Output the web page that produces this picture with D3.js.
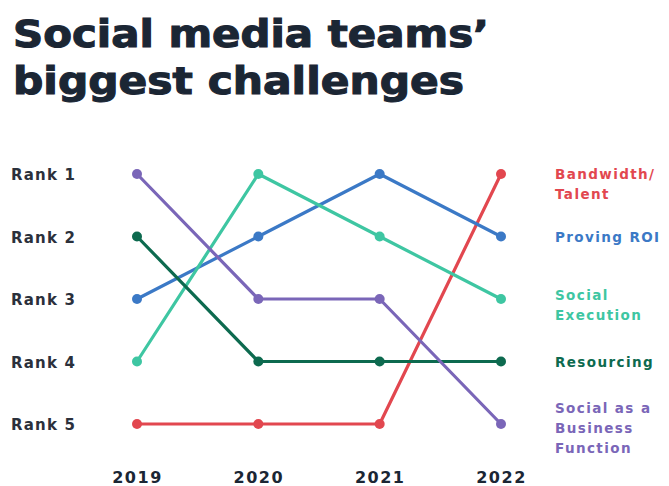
<!DOCTYPE html>
<html>
<head>
<meta charset="utf-8">
<script src="https://cdn.jsdelivr.net/npm/d3@7"></script>
<style>
  body { margin: 0; background: #fff; }
  svg text { font-family: "DejaVu Sans", sans-serif; }
</style>
</head>
<body>
<div id="chart"></div>
<script>
var years = ["2019", "2020", "2021", "2022"];
var rankLabels = ["Rank 1", "Rank 2", "Rank 3", "Rank 4", "Rank 5"];
var seriesNames = ["Bandwidth/Talent", "Proving ROI", "Social Execution", "Resourcing", "Social as a Business Function"];
var seriesLabelLines = [["Bandwidth/", "Talent"], ["Proving ROI"], ["Social", "Execution"], ["Resourcing"], ["Social as a", "Business", "Function"]];
var bandwidth = [5, 5, 5, 1];
var provingRoi = [3, 2, 1, 2];
var socialExecution = [4, 1, 2, 3];
var resourcing = [2, 4, 4, 4];
var businessFunction = [1, 3, 3, 5];
var colors = ["#e2474f", "#3b79c6", "#3ec6a2", "#0d6a4f", "#7a66b8"];

var ranks = [bandwidth, provingRoi, socialExecution, resourcing, businessFunction];
var series = seriesNames.map(function(n, i) {
  return { name: n, lines: seriesLabelLines[i], color: colors[i], values: ranks[i] };
});

var W = 669, H = 486;
var svg = d3.select("#chart").append("svg").attr("width", W).attr("height", H);

// title
var title = ["Social media teams\u2019", "biggest challenges"];
svg.append("g").selectAll("text").data(title).enter().append("text")
  .attr("x", 13).attr("y", function(d, i) { return 47 + i * 47; })
  .attr("font-size", 37).attr("font-weight", 700).attr("fill", "#1b2634")
  .attr("stroke", "#1b2634").attr("stroke-width", 1.1)
  .attr("textLength", function(d, i) { return i ? 451 : 476; })
  .attr("lengthAdjust", "spacingAndGlyphs")
  .text(function(d) { return d; });

var x = d3.scalePoint().domain(years).range([137, 501]);
var y = d3.scaleLinear().domain([1, 5]).range([174, 424]);

// rank labels
svg.append("g").selectAll("text").data(rankLabels).enter().append("text")
  .attr("x", 11).attr("y", function(d, i) { return y(i + 1) + 1; })
  .attr("dy", "0.35em")
  .attr("font-size", 15).attr("font-weight", 700).attr("fill", "#2b303b")
  .attr("letter-spacing", 1.2)
  .text(function(d) { return d; });

// year axis
var axisX = d3.axisBottom(x).tickSize(0).tickPadding(0);
var gx = svg.append("g").attr("transform", "translate(0,477)").call(axisX);
gx.select(".domain").remove();
gx.selectAll("text").attr("font-size", 16).attr("font-weight", 700)
  .attr("fill", "#1b2634").attr("dy", "0.35em").attr("letter-spacing", 1.5)
  .style("font-family", "'DejaVu Sans', sans-serif");

var line = d3.line()
  .x(function(d, i) { return x(years[i]); })
  .y(function(d) { return y(d); });

var g = svg.append("g");
series.forEach(function(s) {
  g.append("path").datum(s.values)
    .attr("d", line).attr("fill", "none")
    .attr("stroke", s.color).attr("stroke-width", 3.2)
    .attr("stroke-linejoin", "round");
  g.selectAll(null).data(s.values).enter().append("circle")
    .attr("cx", function(d, i) { return x(years[i]); })
    .attr("cy", function(d) { return y(d); })
    .attr("r", 5).attr("fill", s.color);
});

// right labels
series.forEach(function(s) {
  var last = s.values[s.values.length - 1];
  var n = s.lines.length;
  var lh = 20;
  var y0 = y(last) + 1;
  if (n === 2) y0 = y(last) - (s.name === "Social Execution" ? 4 : 0);
  if (n === 3) y0 = y(last) - 16;
  s.lines.forEach(function(t, j) {
    svg.append("text").attr("x", 555).attr("y", y0 + j * lh)
      .attr("dy", "0.35em").attr("font-size", 13.5).attr("font-weight", 700)
      .attr("letter-spacing", 1.4)
      .attr("fill", s.color).text(t);
  });
});
</script>
</body>
</html>
